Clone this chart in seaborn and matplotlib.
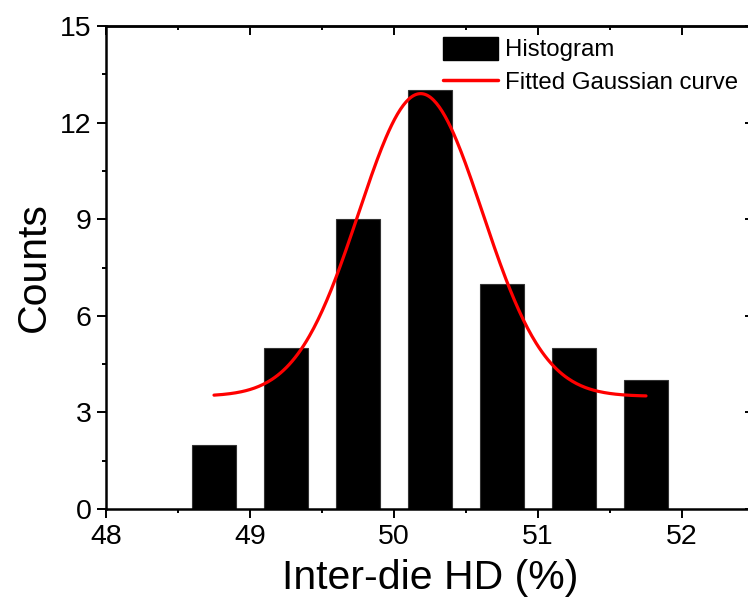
import numpy as np
import pandas as pd
import seaborn as sns
import matplotlib
matplotlib.use('Agg')
import matplotlib.pyplot as plt
from matplotlib.ticker import MultipleLocator, NullFormatter
from matplotlib.patches import Patch
from matplotlib.lines import Line2D

# histogram bins (centers) and counts
bin_centers = [48.75, 49.25, 49.75, 50.25, 50.75, 51.25, 51.75]
counts = [2, 5, 9, 13, 7, 5, 4]

# fitted Gaussian parameters
fit_y0 = 3.5
fit_amp = 9.4
fit_xc = 50.185
fit_sigma = 0.43
fit_range = (48.75, 51.75)

x_ticks = [48, 49, 50, 51, 52]
y_ticks = [0, 3, 6, 9, 12, 15]

sns.set_theme(style='ticks')
plt.rcParams['font.family'] = ['Liberation Sans', 'DejaVu Sans']
plt.rcParams['text.color'] = 'black'
plt.rcParams['axes.labelcolor'] = 'black'
plt.rcParams['xtick.color'] = 'black'
plt.rcParams['ytick.color'] = 'black'

hist_df = pd.DataFrame({'HD': bin_centers, 'Counts': counts})
fit_x = np.linspace(fit_range[0], fit_range[1], 300)
fit_df = pd.DataFrame({'HD': fit_x,
                       'Counts': fit_y0 + fit_amp * np.exp(-(fit_x - fit_xc) ** 2 / (2 * fit_sigma ** 2))})

fig = plt.figure(figsize=(7.48, 6.01), dpi=100)
ax = fig.add_axes([106 / 748, 1 - 509 / 601, 648 / 748, 483 / 601])

sns.barplot(data=hist_df, x='HD', y='Counts', native_scale=True, width=0.62,
            color='black', edgecolor='#333333', linewidth=0.8, saturation=1, ax=ax)
sns.lineplot(data=fit_df, x='HD', y='Counts', color='red', linewidth=2.3, ax=ax)

ax.set_xlim(48, 52.5)
ax.set_ylim(0, 15)
ax.set_xticks(x_ticks)
ax.set_yticks(y_ticks)
ax.xaxis.set_minor_locator(MultipleLocator(0.5))
ax.yaxis.set_minor_locator(MultipleLocator(1.5))
ax.tick_params(which='major', direction='out', length=6.5, width=1.4, labelsize=20.5, pad=4,
               color='black', labelcolor='black')
ax.tick_params(which='minor', direction='out', length=3, width=1.4, color='black')
for s in ax.spines.values():
    s.set_linewidth(1.8)
    s.set_color('black')

# mirrored ticks on top and right, pointing in
top = ax.secondary_xaxis('top')
top.set_xticks(x_ticks)
top.xaxis.set_minor_locator(MultipleLocator(0.5))
top.xaxis.set_major_formatter(NullFormatter())
top.tick_params(which='major', direction='in', length=6.5, width=1.4)
top.tick_params(which='minor', direction='in', length=3, width=1.4)
top.spines['top'].set_linewidth(1.8)

right = ax.secondary_yaxis('right')
right.set_yticks(y_ticks)
right.yaxis.set_minor_locator(MultipleLocator(1.5))
right.yaxis.set_major_formatter(NullFormatter())
right.tick_params(which='major', direction='in', length=6.5, width=1.4)
right.tick_params(which='minor', direction='in', length=3, width=1.4)
right.spines['right'].set_linewidth(1.8)

ax.set_xlabel('Inter-die HD (%)', fontsize=29.5, labelpad=7)
ax.set_ylabel('Counts', fontsize=29.5, labelpad=5)

handles = [Patch(facecolor='black', edgecolor='black'),
           Line2D([0], [0], color='red', lw=2.5)]
ax.legend(handles, ['Histogram', 'Fitted Gaussian curve'], loc='upper left',
          bbox_to_anchor=(0.52, 0.978), frameon=False, fontsize=17.3,
          handlelength=2.3, handleheight=1.1, handletextpad=0.3,
          labelspacing=0.35, borderpad=0, borderaxespad=0)

fig.savefig('out.png', dpi=100)
